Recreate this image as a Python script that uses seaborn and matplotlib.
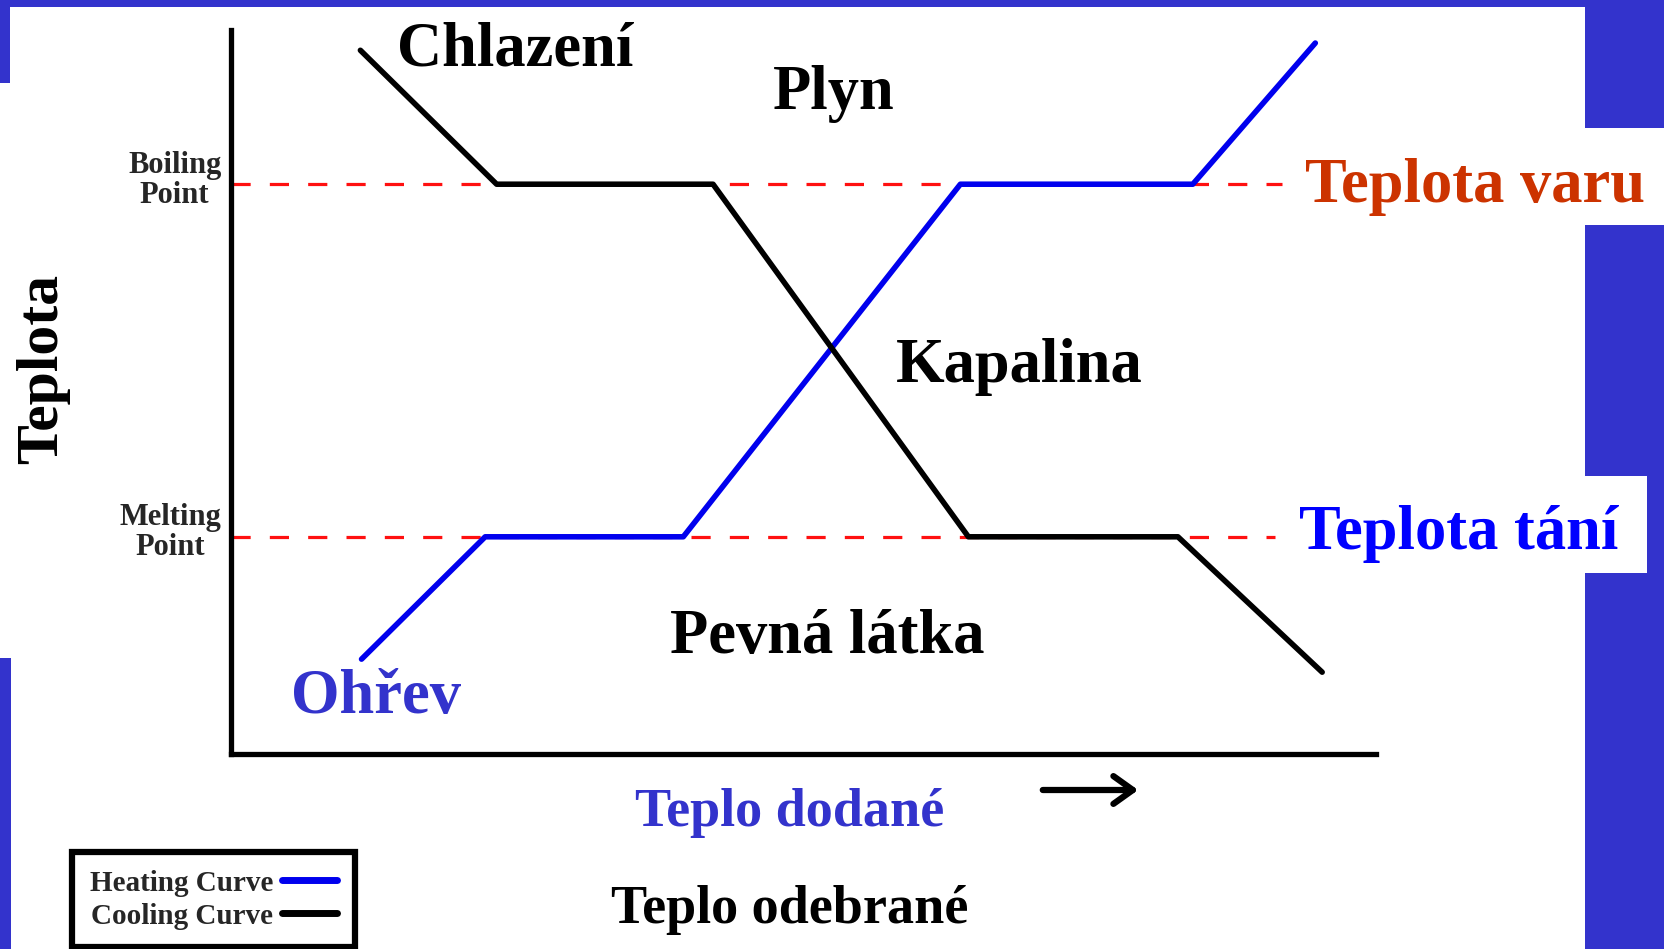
import numpy as np
import pandas as pd
import matplotlib
matplotlib.use('Agg')
import matplotlib.pyplot as plt
from matplotlib.patches import Rectangle
from matplotlib.transforms import ScaledTranslation
import seaborn as sns

# hodnoty (teplo 0-100, teplota 0-100)
heat_in = [11.4, 22.2, 39.5, 63.7, 84.0, 94.7]
temp_heating = [13.1, 30.0, 30.0, 78.7, 78.7, 98.2]
heat_out = [11.3, 23.2, 42.1, 64.4, 82.7, 95.3]
temp_cooling = [97.2, 78.7, 78.7, 30.0, 30.0, 11.3]
boiling = 78.7
melting = 30.0
dash_end = [91.8, 91.2]
curve_names = ['Heating Curve', 'Cooling Curve']
tick_labels = ['Melting\nPoint', 'Boiling\nPoint']

df = pd.concat([
    pd.DataFrame({'teplo': heat_in, 'teplota': temp_heating, 'krivka': curve_names[0]}),
    pd.DataFrame({'teplo': heat_out, 'teplota': temp_cooling, 'krivka': curve_names[1]}),
], ignore_index=True)

sns.set_style('white')
plt.rcParams['font.family'] = ['Liberation Serif', 'DejaVu Serif']
plt.rcParams['font.weight'] = 'bold'

W, H = 1664, 949
fig = plt.figure(figsize=(W / 100, H / 100), dpi=100, facecolor='white')


def fx(x):
    return x / W


def fy(y):
    return 1 - y / H


# modré okraje snímku
blue = '#3333cc'
for x0, y0, x1, y1 in [(0, 0, 1585, 7), (0, 0, 10, 83), (0, 658, 11, 949),
                       (1585, 0, 1664, 128), (1585, 225, 1664, 476),
                       (1647, 476, 1664, 573), (1585, 573, 1664, 949)]:
    fig.add_artist(Rectangle((fx(x0), fy(y1)), (x1 - x0) / W, (y1 - y0) / H,
                             transform=fig.transFigure, color=blue, lw=0, zorder=0))

ax = fig.add_axes([fx(231), fy(754), 1145 / W, 724 / H])
ax.set_facecolor('none')

ax.hlines([boiling, melting], 0, dash_end, colors='#ff1010', linewidth=2.3,
          linestyles=(0, (6, 6)), zorder=2)

sns.lineplot(data=df, x='teplo', y='teplota', hue='krivka', hue_order=curve_names,
             palette={curve_names[0]: '#0000ee', curve_names[1]: 'black'},
             sort=False, estimator=None, linewidth=4, ax=ax, zorder=3)

ax.set_xlim(0, 100)
ax.set_ylim(0, 100)
ax.set_xlabel('')
ax.set_ylabel('')
sns.despine(ax=ax)
for s in ['left', 'bottom']:
    ax.spines[s].set_linewidth(3.8)
    ax.spines[s].set_color('black')
ax.set_xticks([])
ax.set_yticks([melting, boiling], tick_labels)
ax.tick_params(axis='y', length=0, pad=7, labelsize=22)
for lab in ax.get_yticklabels():
    lab.set_multialignment('center')
    lab.set_linespacing(1.05)
    lab.set_transform(lab.get_transform() + ScaledTranslation(0, 8 / 100, fig.dpi_scale_trans))

handles, labels = ax.get_legend_handles_labels()
leg = ax.legend(handles, labels, loc='lower left', bbox_to_anchor=(fx(72), fy(947)),
                bbox_transform=fig.transFigure, markerfirst=False, frameon=True,
                fancybox=False, edgecolor='black', framealpha=1, handlelength=1.9,
                handletextpad=0.3, labelspacing=0.2, borderpad=0.6, borderaxespad=0,
                prop={'family': 'Liberation Serif', 'weight': 'bold', 'size': 21})
leg.get_frame().set_linewidth(4.5)
for h in leg.legend_handles:
    h.set_linewidth(5)

big = dict(fontsize=45, fontweight='bold', ha='center', va='baseline')
fig.text(fx(515), fy(65), 'Chlazení', color='black', **big)
fig.text(fx(834), fy(109), 'Plyn', color='black', **big)
fig.text(fx(1019), fy(382), 'Kapalina', color='black', **big)
fig.text(fx(827), fy(653), 'Pevná látka', color='black', **big)
fig.text(fx(376), fy(713), 'Ohřev', color='#3333cc', **big)
fig.text(fx(1475), fy(202), 'Teplota varu', color='#cc3300', **big)
fig.text(fx(1459), fy(549), 'Teplota tání', color='#0000ff', **big)
fig.text(fx(43), fy(369), 'Teplota', color='black', fontsize=43, fontweight='bold',
         rotation=90, ha='center', va='center')
fig.text(fx(790), fy(826), 'Teplo dodané', color='#3333cc', fontsize=39,
         fontweight='bold', ha='center', va='baseline')
fig.text(fx(790), fy(923), 'Teplo odebrané', color='black', fontsize=39,
         fontweight='bold', ha='center', va='baseline')

ax.annotate('', xy=(1141, H - 790), xytext=(1040, H - 790), xycoords='figure pixels',
            textcoords='figure pixels',
            arrowprops=dict(arrowstyle='->, head_length=1.4, head_width=1.0', lw=4.5,
                            color='black'))

fig.savefig('out.png', dpi=100)
